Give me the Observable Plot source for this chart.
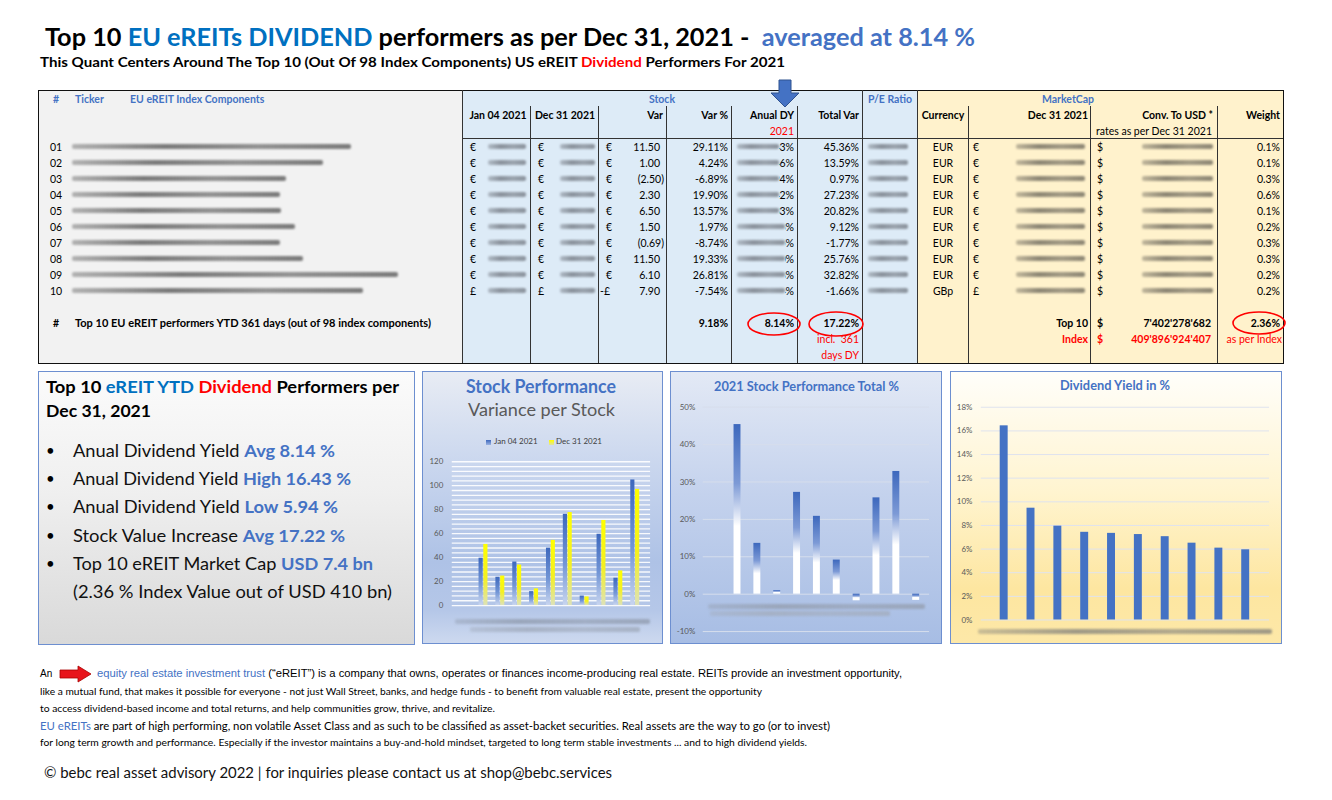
<!DOCTYPE html>
<html><head><meta charset="utf-8">
<script src="https://cdn.jsdelivr.net/npm/d3@7"></script>
<script src="https://cdn.jsdelivr.net/npm/@observablehq/plot@0.6"></script>
<style>
body{margin:0;background:#fff;font-family:Lato,"Noto Sans",sans-serif;}
#root{position:relative;width:1332px;height:800px;overflow:hidden;background:#fff;}
.t{position:absolute;white-space:nowrap;line-height:1.15;}
.box{position:absolute;box-sizing:border-box;}
.blur{position:absolute;height:5px;filter:blur(1.1px);border-radius:2px;}
</style></head><body><div id="root"></div>
<script>
// ---------------- DATA ----------------
const rowIds = ["01","02","03","04","05","06","07","08","09","10"];
const priceCurrency = ["€","€","€","€","€","€","€","€","€","£"];
const varAbs = [11.50, 1.00, -2.50, 2.30, 6.50, 1.50, -0.69, 11.50, 6.10, -7.90];
const varPct = [29.11, 4.24, -6.89, 19.90, 13.57, 1.97, -8.74, 19.33, 26.81, -7.54];
const divYield = [16.43, 9.46, 7.94, 7.42, 7.33, 7.23, 7.05, 6.50, 6.08, 5.94];
const totalVar = [45.36, 13.59, 0.97, 27.23, 20.82, 9.12, -1.77, 25.76, 32.82, -1.66];
const currencyCode = ["EUR","EUR","EUR","EUR","EUR","EUR","EUR","EUR","EUR","GBp"];
const weightPct = [0.1, 0.1, 0.3, 0.6, 0.1, 0.2, 0.3, 0.3, 0.2, 0.2];
const priceJan04 = [39.5, 23.6, 36.3, 11.6, 47.9, 76.1, 7.9, 59.5, 22.8, 104.8];
const priceDec31 = [51.0, 24.6, 33.8, 13.9, 54.4, 77.6, 7.2, 71.0, 28.9, 96.9];
const top10CapUSD = "7'402'278'682";
const indexCapUSD = "409'896'924'407";
const top10Weight = "2.36%";
const dyVisibleChars = [2,2,2,2,2,1,1,1,1,1];
// blurred (hidden) name widths — decoration only
const nameBlurEnd = [351, 323, 286, 280, 281, 295, 280, 303, 398, 363];

const avg = a => d3.mean(a);
const f2 = v => v.toFixed(2);

// ---------------- helpers ----------------
const root = document.getElementById("root");
function T(x, y, html, o = {}) {
  const d = document.createElement("div");
  d.className = "t";
  d.innerHTML = html;
  d.style.fontSize = (o.size || 10.5) + "px";
  d.style.fontWeight = o.bold ? "700" : "400";
  d.style.color = o.color || "#000";
  if (o.font) d.style.fontFamily = o.font;
  root.appendChild(d);
  const w = d.getBoundingClientRect().width;
  const sx = o.w ? o.w / w : 1;
  const ax = o.anchor === "end" ? 1 : o.anchor === "middle" ? 0.5 : 0;
  d.style.left = (x - ax * w * sx) + "px";
  d.style.top = y + "px";
  d.style.transformOrigin = "0 0";
  d.style.transform = `scaleX(${sx}) translateY(-50%)`;
  return d;
}
function box(x, y, w, h, css) {
  const d = document.createElement("div");
  d.className = "box";
  Object.assign(d.style, {left: x + "px", top: y + "px", width: w + "px", height: h + "px"}, css || {});
  root.appendChild(d);
  return d;
}
function blur(x1, x2, y, color) {
  const d = document.createElement("div");
  d.className = "blur";
  Object.assign(d.style, {left: x1 + "px", top: (y - 3) + "px", width: (x2 - x1) + "px",
    background: `linear-gradient(90deg, ${color}88, ${color}, ${color}cc, ${color})`});
  root.appendChild(d);
}
function vline(x, y1, y2) { box(x, y1, 1, y2 - y1, {background: "#333"}); }
function hline(x1, x2, y) { box(x1, y, x2 - x1, 1, {background: "#333"}); }
const BLUE = "#4472c4", XBLUE = "#0070c0", RED = "#ff0000";

// ---------------- TITLE ----------------
T(45, 37, `Top 10 <span style="color:${XBLUE}">EU eREITs DIVIDEND</span> performers as per Dec 31, 2021 -&nbsp; <span style="color:${BLUE}">averaged at ${avg(divYield).toFixed(2)} %</span>`, {size: 24, bold: true, w: 930});
T(40, 63, `This Quant Centers Around The Top 10 (Out Of 98 Index Components) US eREIT <span style="color:${RED}">Dividend</span> Performers For 2021`, {size: 12.5, bold: true, w: 745});

// ---------------- TABLE ----------------
box(38, 90, 424, 273, {background: "#f2f2f2"});
box(462, 90, 455, 273, {background: "#ddebf7"});
box(917, 90, 366, 273, {background: "#fff2cc"});
box(38, 90, 1246, 274, {border: "1px solid #111"});
vline(462, 90, 363); vline(862, 90, 363); vline(917, 90, 363);
[530, 598, 666, 731, 797, 968, 1090, 1217].forEach(x => vline(x, 106, 363));
hline(462, 1283, 138);

const hs = 10.5;
T(56, 99, "#", {size: hs, bold: true, color: BLUE, anchor: "middle"});
T(75, 99, "Ticker", {size: hs, bold: true, color: BLUE});
T(130, 99, "EU eREIT Index Components", {size: hs, bold: true, color: BLUE});
T(662, 99, "Stock", {size: hs, bold: true, color: BLUE, anchor: "middle"});
T(890, 99, "P/E Ratio", {size: hs, bold: true, color: BLUE, anchor: "middle"});
T(1068, 99, "MarketCap", {size: hs, bold: true, color: BLUE, anchor: "middle"});
T(498, 115, "Jan 04 2021", {size: hs, bold: true, anchor: "middle"});
T(565, 115, "Dec 31 2021", {size: hs, bold: true, anchor: "middle"});
T(663, 115, "Var", {size: hs, bold: true, anchor: "end"});
T(728, 115, "Var %", {size: hs, bold: true, anchor: "end"});
T(794, 115, "Anual DY", {size: hs, bold: true, anchor: "end"});
T(794, 131, "2021", {size: hs, color: RED, anchor: "end"});
T(859, 115, "Total Var", {size: hs, bold: true, anchor: "end"});
T(943, 115, "Currency", {size: hs, bold: true, anchor: "middle"});
T(1088, 115, "Dec 31 2021", {size: hs, bold: true, anchor: "end"});
T(1213, 115, "Conv. To USD *", {size: hs, bold: true, anchor: "end"});
T(1280, 115, "Weight", {size: hs, bold: true, anchor: "end"});
T(1154, 131, "rates as per Dec 31 2021", {size: hs, anchor: "middle"});

// blue arrow above Anual DY
root.insertAdjacentHTML("beforeend", `<svg style="position:absolute;left:770px;top:79px" width="32" height="30"><polygon points="9,1 21,1 21,14 29,14 15,28 1,14 9,14" fill="${BLUE}" stroke="#2f528f" stroke-width="1"/></svg>`);

const rs = 10.5;
rowIds.forEach((id, i) => {
  const y = 147 + i * 16;
  T(50, y, id, {size: rs});
  blur(72, nameBlurEnd[i], y, "#7a7a7a");
  const cs = priceCurrency[i];
  T(470, y, cs, {size: rs});
  blur(488, 526, y, "#8a929c");
  T(538, y, cs, {size: rs});
  blur(560, 595, y, "#8a929c");
  const v = varAbs[i];
  if (currencyCode[i] === "GBp") {
    T(600, y, (v < 0 ? "-" : "") + cs, {size: rs});
    T(660, y, f2(Math.abs(v)), {size: rs, anchor: "end"});
  } else {
    T(606, y, cs, {size: rs});
    if (v < 0) T(664, y, "(" + f2(-v) + ")", {size: rs, anchor: "end"});
    else T(660, y, f2(v), {size: rs, anchor: "end"});
  }
  T(728, y, f2(varPct[i]) + "%", {size: rs, anchor: "end"});
  // dividend yield (partially hidden as in original)
  T(794, y, f2(divYield[i]) + "%", {size: rs, anchor: "end"});
  box(733, y - 7, (dyVisibleChars[i] === 2 ? 779 : 785) - 733, 14, {background: "#ddebf7"});
  blur(737, dyVisibleChars[i] === 2 ? 779 : 785, y, "#8a929c");
  T(859, y, f2(totalVar[i]) + "%", {size: rs, anchor: "end"});
  blur(868, 908, y, "#8a929c");
  T(943, y, currencyCode[i], {size: rs, anchor: "middle"});
  T(973, y, cs, {size: rs});
  blur(1016, 1085, y, "#8d8674");
  T(1097, y, "$", {size: rs});
  blur(1142, 1213, y, "#8d8674");
  T(1280, y, weightPct[i].toFixed(1) + "%", {size: rs, anchor: "end"});
});

// summary row
const sy = 323;
T(56, sy, "#", {size: rs, bold: true, anchor: "middle"});
T(75, sy, "Top 10 EU eREIT performers YTD 361 days (out of 98 index components)", {size: rs, bold: true, w: 356});
T(728, sy, avg(varPct).toFixed(2) + "%", {size: rs, bold: true, anchor: "end"});
T(794, sy, avg(divYield).toFixed(2) + "%", {size: rs, bold: true, anchor: "end"});
T(859, sy, avg(totalVar).toFixed(2) + "%", {size: rs, bold: true, anchor: "end"});
T(859, 339, "incl.&nbsp; 361", {size: rs, color: RED, anchor: "end"});
T(859, 355, "days DY", {size: rs, color: RED, anchor: "end"});
T(1088, sy, "Top 10", {size: rs, bold: true, anchor: "end"});
T(1097, sy, "$", {size: rs, bold: true});
T(1211, sy, top10CapUSD, {size: rs, bold: true, anchor: "end"});
T(1280, sy, top10Weight, {size: rs, bold: true, anchor: "end"});
T(1088, 339, "Index", {size: rs, bold: true, color: RED, anchor: "end"});
T(1097, 339, "$", {size: rs, bold: true, color: RED});
T(1211, 339, indexCapUSD, {size: rs, bold: true, color: RED, anchor: "end"});
T(1282, 339, "as per Index", {size: rs, color: RED, anchor: "end"});
root.insertAdjacentHTML("beforeend", `<svg style="position:absolute;left:0;top:0;pointer-events:none" width="1332" height="400">
<ellipse cx="774" cy="324" rx="26" ry="11" fill="none" stroke="${RED}" stroke-width="1.6"/>
<ellipse cx="836" cy="324" rx="27" ry="12" fill="none" stroke="${RED}" stroke-width="1.6"/>
<ellipse cx="1259" cy="323" rx="26" ry="11" fill="none" stroke="${RED}" stroke-width="1.6"/></svg>`);

// ---------------- PANELS ----------------
const border = "1px solid #6d8fd0";
box(38, 371, 377, 274, {border, background: "linear-gradient(180deg,#fbfbfb 0%,#efefef 45%,#d9d9d9 100%)"});
const p1 = box(422, 371, 241, 273, {border, background: "linear-gradient(180deg,#e8ecf4 0%,#c9d6ee 35%,#aec2e6 70%,#b5c7e8 88%,#cdd9ef 100%)"});
const p2 = box(670, 371, 272, 273, {border, background: "linear-gradient(180deg,#e3e9f5 0%,#c4d2ed 45%,#a7bde4 100%)"});
const p3 = box(950, 371, 332, 273, {border, background: "linear-gradient(180deg,#fffefa 0%,#fff4cf 45%,#fde6a0 80%,#fde8a8 100%)"});

// text panel
T(46, 387, `Top 10 <span style="color:${XBLUE}">eREIT YTD</span> <span style="color:${RED}">Dividend</span> Performers per`, {size: 17.5, bold: true, w: 353});
T(46, 411, "Dec 31, 2021", {size: 17.5, bold: true, w: 105});
const bullets = [
  ["Anual Dividend Yield ", "Avg " + avg(divYield).toFixed(2) + " %", 335],
  ["Anual Dividend Yield ", "High " + d3.max(divYield).toFixed(2) + " %", 351],
  ["Anual Dividend Yield ", "Low " + d3.min(divYield).toFixed(2) + " %", 338],
  ["Stock Value Increase ", "Avg " + avg(totalVar).toFixed(2) + " %", 345],
  ["Top 10 eREIT Market Cap ", "USD 7.4 bn", 373]
];
bullets.forEach(([a, b, end], i) => {
  const y = 451 + i * 28.2;
  T(46, y, "•", {size: 15});
  T(73, y, `${a}<span style="color:${BLUE};font-weight:700">${b}</span>`, {size: 17.5, w: end - 73, color: "#111"});
});
T(73, 592, "(2.36 % Index Value out of USD 410 bn)", {size: 17.5, w: 319, color: "#111"});

// ---------------- CHARTS ----------------
const NS = "http://www.w3.org/2000/svg";
function addGrad(svg, id, stops) {
  let defs = svg.querySelector("defs");
  if (!defs) { defs = document.createElementNS(NS, "defs"); svg.insertBefore(defs, svg.firstChild); }
  const g = document.createElementNS(NS, "linearGradient");
  g.setAttribute("id", id); g.setAttribute("x1", 0); g.setAttribute("y1", 0); g.setAttribute("x2", 0); g.setAttribute("y2", 1);
  stops.forEach(([o, c]) => { const s = document.createElementNS(NS, "stop"); s.setAttribute("offset", o); s.setAttribute("stop-color", c); g.appendChild(s); });
  defs.appendChild(g);
}
function mount(panel, svg) {
  svg.style.position = "absolute"; svg.style.left = "-1px"; svg.style.top = "-1px";
  panel.appendChild(svg);
}
const axisStyle = {background: "transparent", fontFamily: "Lato, sans-serif", fontSize: "8px", color: "#595959", overflow: "visible"};

// Chart 1: Stock Performance, Variance per Stock
const stockData = rowIds.map((id, i) => ({id, jan: priceJan04[i], dec: priceDec31[i]}));
blur(455, 650, 622, "#9aa6bb");
blur(470, 640, 630, "#a8b3c6");
const c1 = Plot.plot({
  width: 241, height: 273, marginTop: 91, marginBottom: 37, marginLeft: 30, marginRight: 11,
  style: axisStyle,
  x: {domain: rowIds, range: [47, 230], padding: 0.45, axis: null},
  y: {domain: [0, 120], ticks: 6, tickSize: 0, tickPadding: 9, label: null},
  marks: [
    Plot.ruleY(d3.range(0, 121, 4), {stroke: "#ffffff", strokeWidth: 1.3, strokeOpacity: 0.9}),
    Plot.barY(stockData, {x: "id", y: "jan", fill: "url(#c1b)", insetRight: 4.8}),
    Plot.barY(stockData, {x: "id", y: "dec", fill: "url(#c1y)", insetLeft: 4.8})
  ]
});
addGrad(c1, "c1b", [["0", "#3d68bd"], ["0.55", "#7396d6"], ["1", "#c8d5ef"]]);
addGrad(c1, "c1y", [["0", "#ffff00"], ["0.55", "#f4f020"], ["1", "#dde2b8"]]);
mount(p1, c1);
T(541, 386, "Stock Performance", {size: 18, bold: true, color: BLUE, anchor: "middle", w: 150});
T(541, 410, "Variance per Stock", {size: 17, color: "#595959", anchor: "middle", w: 147});
box(486, 440, 5, 5, {background: "linear-gradient(180deg,#3d68bd,#9bb3e2)"});
T(494, 442, "Jan 04 2021", {size: 8, color: "#404040"});
box(549, 440, 5, 5, {background: "linear-gradient(180deg,#ffff00,#e0e3a0)"});
T(556, 442, "Dec 31 2021", {size: 8, color: "#404040"});

// Chart 2: 2021 Stock Performance Total %
const totalData = rowIds.map((id, i) => ({id, v: totalVar[i]}));
blur(708, 925, 607, "#9aa6bb");
blur(710, 890, 614, "#a5b1c6");
const c2 = Plot.plot({
  width: 272, height: 273, marginTop: 36, marginBottom: 11, marginLeft: 33, marginRight: 11,
  style: axisStyle,
  x: {domain: rowIds, range: [54, 261], paddingInner: 0.65, paddingOuter: 0.325, axis: null},
  y: {domain: [-10, 50], ticks: 6, tickSize: 0, tickPadding: 8, label: null, tickFormat: d => d + "%"},
  marks: [
    Plot.ruleY(d3.range(-10, 51, 10), {stroke: "#d6deec", strokeWidth: 1}),
    Plot.barY(totalData, {x: "id", y: "v", fill: "url(#c2b)"})
  ]
});
addGrad(c2, "c2b", [["0", "#3d68bd"], ["0.35", "#7d9ad6"], ["0.6", "#ffffff"], ["1", "#ffffff"]]);
mount(p2, c2);
T(806, 386, "2021 Stock Performance Total %", {size: 13, bold: true, color: BLUE, anchor: "middle", w: 185});

// Chart 3: Dividend Yield in %
const dyData = rowIds.map((id, i) => ({id, v: divYield[i]}));
blur(978, 1272, 632, "#a09a86");
const c3 = Plot.plot({
  width: 332, height: 273, marginTop: 36, marginBottom: 23, marginLeft: 31, marginRight: 11,
  style: axisStyle,
  x: {domain: rowIds, range: [31, 320], padding: 0.7, axis: null},
  y: {domain: [0, 18], ticks: 9, tickSize: 0, tickPadding: 9, label: null, tickFormat: d => d + "%"},
  marks: [
    Plot.ruleY(d3.range(0, 19, 2), {stroke: "#dfe3ee", strokeWidth: 1}),
    Plot.barY(dyData, {x: "id", y: "v", fill: BLUE})
  ]
});
mount(p3, c3);
T(1115, 385, "Dividend Yield in %", {size: 13, bold: true, color: BLUE, anchor: "middle", w: 110});

// ---------------- FOOTER ----------------
T(40, 674, "An", {size: 10, font: "'Liberation Sans', Arial, sans-serif"});
root.insertAdjacentHTML("beforeend", `<svg style="position:absolute;left:58px;top:665px" width="36" height="20"><polygon points="2,5 20,5 20,1 33,9 20,17 20,13 2,13" fill="#e8141b" stroke="#a00" stroke-width="0.8"/></svg>`);
T(97, 674, `<span style="color:${BLUE}">equity real estate investment trust</span> (“eREIT”) is a company that owns, operates or finances income-producing real estate. REITs provide an investment opportunity,`, {size: 10, font: "'Liberation Sans', Arial, sans-serif", w: 805});
T(40, 692, "like a mutual fund, that makes it possible for everyone - not just Wall Street, banks, and hedge funds - to benefit from valuable real estate, present the opportunity", {size: 9.5, w: 722});
T(40, 709, "to access dividend-based income and total returns, and help communities grow, thrive, and revitalize.", {size: 9.5, w: 455});
T(40, 726, `<span style="color:${BLUE}">EU eREITs</span> are part of high performing, non volatile Asset Class and as such to be classified as asset-backet securities. Real assets are the way to go (or to invest)`, {size: 10.5, w: 790});
T(40, 743, "for long term growth and performance. Especially if the investor maintains a buy-and-hold mindset, targeted to long term stable investments ... and to high dividend yields.", {size: 9.5, w: 767});
T(44, 773, "© bebc real asset advisory 2022 | for inquiries please contact us at shop@bebc.services", {size: 14.5, w: 568, color: "#111"});
</script></body></html>
